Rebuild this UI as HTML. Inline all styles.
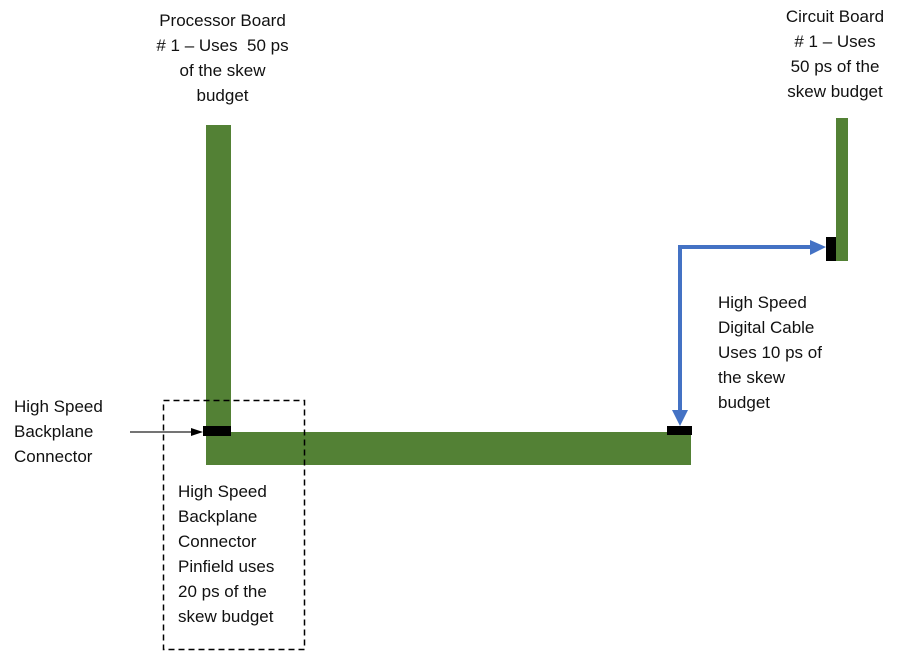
<!DOCTYPE html>
<html><head><style>
body{margin:0;width:915px;height:659px;background:#fff;position:relative;overflow:hidden;font-family:"Liberation Sans",sans-serif;font-size:17px;color:#111;line-height:25px}
.t{position:absolute;white-space:nowrap}
</style></head><body>
<svg width="915" height="659" style="position:absolute;left:0;top:0">
<rect x="206" y="125" width="25" height="307" fill="#538135"/>
<rect x="206" y="432" width="485" height="33" fill="#538135"/>
<rect x="836" y="118" width="12" height="143" fill="#538135"/>
<rect x="203" y="426" width="28" height="10" fill="#000"/>
<rect x="667" y="426" width="25" height="9" fill="#000"/>
<rect x="826" y="237" width="10" height="24" fill="#000"/>
<path d="M680 412 V247 H812" fill="none" stroke="#4472c4" stroke-width="4"/>
<polygon points="672,410 688,410 680,426" fill="#4472c4"/>
<polygon points="810,240 810,255 826,247" fill="#4472c4"/>
<line x1="130" y1="432" x2="192" y2="432" stroke="#222" stroke-width="1.2"/>
<polygon points="191,428 203,432 191,436" fill="#000"/>
<rect x="163.5" y="400.5" width="141" height="249" fill="none" stroke="#000" stroke-width="1.5" stroke-dasharray="6,4"/>
</svg>
<div class="t" style="left:150px;top:8px;text-align:center;width:145px">Processor Board<br># 1 – Uses &nbsp;50 ps<br>of the skew<br>budget</div>
<div class="t" style="left:775px;top:4px;text-align:center;width:120px">Circuit Board<br># 1 – Uses<br>50 ps of the<br>skew budget</div>
<div class="t" style="left:718px;top:290px">High Speed<br>Digital Cable<br>Uses 10 ps of<br>the skew<br>budget</div>
<div class="t" style="left:14px;top:394px">High Speed<br>Backplane<br>Connector</div>
<div class="t" style="left:178px;top:479px">High Speed<br>Backplane<br>Connector<br>Pinfield uses<br>20 ps of the<br>skew budget</div>
</body></html>
